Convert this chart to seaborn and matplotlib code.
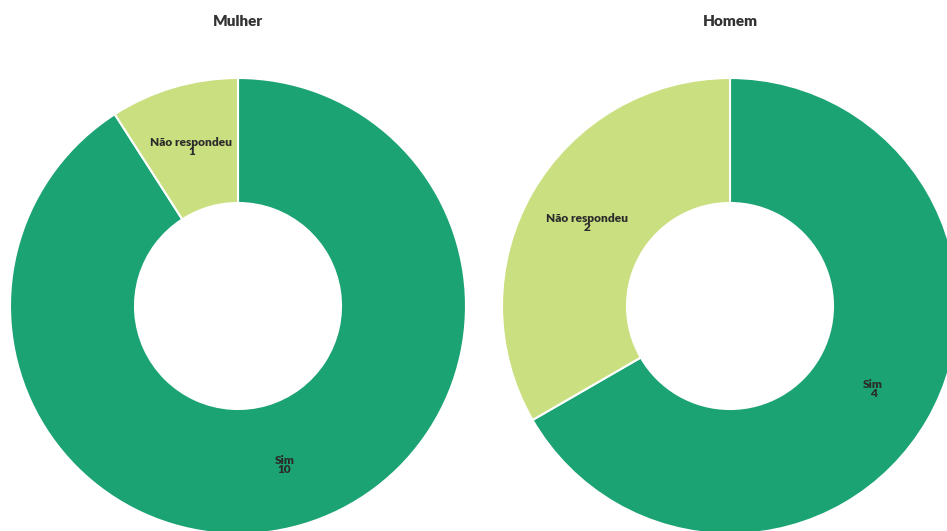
import matplotlib
matplotlib.use("Agg")
import numpy as np
import matplotlib.pyplot as plt
import seaborn as sns

# Survey answers by gender
groups = ["Mulher", "Homem"]
categories = ["Sim", "Não respondeu"]
mulher_counts = [10, 1]
homem_counts = [4, 2]

sns.set_theme(style="white")
plt.rcParams["font.family"] = ["Lato", "DejaVu Sans"]

colors = ["#1ba373", "#cadf80"]

W, H = 947, 531
fig = plt.figure(figsize=(W / 100, H / 100), dpi=100)
ax = fig.add_axes([0, 0, 1, 1])

outer = 228
inner = 103
centers = [(238, H - 306), (730, H - 306)]
title_y = H - 22

for name, counts, (cx, cy) in zip(groups, [mulher_counts, homem_counts], centers):
    labels = [f"{c}\n{v}" for c, v in zip(categories, counts)]
    ax.pie(
        counts,
        colors=colors,
        startangle=90,
        counterclock=False,
        center=(cx, cy),
        radius=outer,
        wedgeprops=dict(width=outer - inner, edgecolor="white", linewidth=1.5),
        frame=True,
    )
    # value labels in the middle of each ring segment
    total = sum(counts)
    start = 90.0
    mid_r = (outer + inner) / 2
    for lab, v in zip(labels, counts):
        span = 360.0 * v / total
        ang = np.deg2rad(start - span / 2)
        ax.text(cx + mid_r * np.cos(ang), cy + mid_r * np.sin(ang), lab,
                ha="center", va="center", fontsize=8.6, fontweight="heavy",
                color="#2b2b2b", linespacing=0.8)
        start -= span
    ax.text(cx, title_y, name, ha="center", va="center", fontsize=11,
            fontweight="heavy", color="#333333")

ax.set_xlim(0, W)
ax.set_ylim(0, H)
ax.set_aspect("auto")
ax.set_axis_off()

fig.savefig("out.png", dpi=100, facecolor="white")
